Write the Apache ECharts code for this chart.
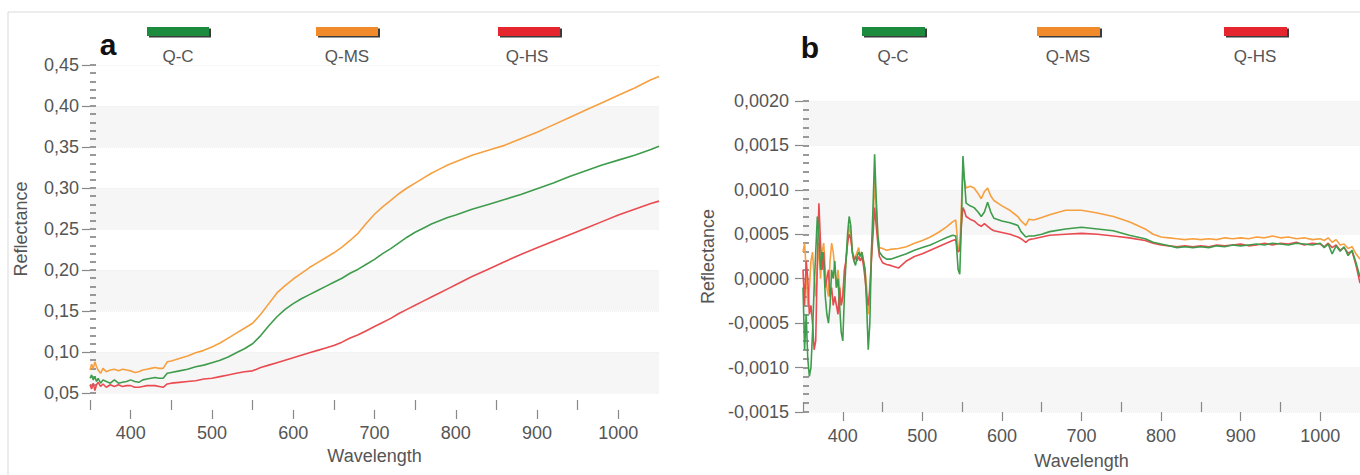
<!DOCTYPE html>
<html>
<head>
<meta charset="utf-8">
<script src="https://cdn.jsdelivr.net/npm/echarts@6/dist/echarts.min.js"></script>
<style>
  html, body { margin: 0; padding: 0; background: #fff; }
  #chart { width: 1360px; height: 475px; }
</style>
</head>
<body>
<div id="chart"></div>
<script>
// panel a: wavelength (nm) and reflectance
const waveA = [350, 352, 354, 356, 358, 360, 363, 366, 370, 375, 380, 385, 390, 395, 400, 405, 410, 415, 420, 425, 430, 435, 440, 445, 450,
  460, 470, 480, 490, 500, 510, 520, 530, 540, 550, 560, 570, 580, 590, 600, 610, 620, 630, 640, 650, 660, 670, 680, 690, 700,
  710, 720, 730, 740, 750, 760, 770, 780, 790, 800, 820, 840, 860, 880, 900, 920, 940, 960, 980, 1000, 1020, 1040, 1050];
const qcA = [0.068, 0.072, 0.066, 0.070, 0.064, 0.068, 0.062, 0.066, 0.064, 0.062, 0.066, 0.062, 0.063, 0.064, 0.066, 0.064, 0.063, 0.066, 0.067, 0.068, 0.069, 0.068, 0.068, 0.074, 0.075,
  0.077, 0.079, 0.082, 0.084, 0.087, 0.090, 0.094, 0.099, 0.104, 0.110, 0.120, 0.132, 0.143, 0.152, 0.159, 0.165, 0.170, 0.175, 0.180, 0.185, 0.190, 0.196, 0.201, 0.207, 0.213,
  0.220, 0.226, 0.233, 0.240, 0.246, 0.251, 0.256, 0.260, 0.264, 0.267, 0.274, 0.280, 0.286, 0.292, 0.299, 0.306, 0.314, 0.321, 0.328, 0.334, 0.340, 0.347, 0.351];
const qmsA = [0.078, 0.085, 0.080, 0.088, 0.082, 0.078, 0.074, 0.080, 0.076, 0.078, 0.079, 0.077, 0.079, 0.078, 0.077, 0.075, 0.076, 0.078, 0.079, 0.080, 0.081, 0.080, 0.080, 0.088, 0.089,
  0.092, 0.095, 0.099, 0.102, 0.106, 0.111, 0.117, 0.123, 0.129, 0.135, 0.146, 0.159, 0.172, 0.181, 0.189, 0.196, 0.203, 0.209, 0.215, 0.221, 0.228, 0.236, 0.245, 0.257, 0.268,
  0.277, 0.285, 0.293, 0.300, 0.306, 0.312, 0.318, 0.323, 0.328, 0.332, 0.340, 0.346, 0.352, 0.360, 0.368, 0.377, 0.386, 0.395, 0.404, 0.413, 0.422, 0.432, 0.436];
const qhsA = [0.060, 0.055, 0.062, 0.053, 0.060, 0.063, 0.058, 0.061, 0.057, 0.060, 0.058, 0.060, 0.058, 0.059, 0.059, 0.057, 0.057, 0.058, 0.059, 0.059, 0.059, 0.058, 0.057, 0.061, 0.062,
  0.063, 0.064, 0.065, 0.067, 0.068, 0.070, 0.072, 0.074, 0.076, 0.077, 0.081, 0.084, 0.087, 0.090, 0.093, 0.096, 0.099, 0.102, 0.105, 0.108, 0.112, 0.117, 0.121, 0.126, 0.131,
  0.136, 0.141, 0.147, 0.152, 0.157, 0.162, 0.167, 0.172, 0.177, 0.182, 0.192, 0.201, 0.210, 0.219, 0.227, 0.235, 0.243, 0.251, 0.259, 0.267, 0.274, 0.281, 0.284];

// panel b: values in units of 1e-4
const waveB = [350, 352, 354, 356, 358, 360, 362, 364, 366, 368, 370, 372, 374, 376, 378, 380, 382, 384, 386, 388,
  390, 392, 394, 396, 398, 400, 402, 404, 406, 408, 410, 412, 414, 416, 418, 420, 422, 424, 426, 428,
  430, 432, 434, 436, 438, 440, 442, 444, 446,
  450, 455, 460, 470, 480, 490, 500, 510, 520, 530,
  538, 542, 545, 547, 549, 551, 553, 555,
  560, 565, 570, 574, 578, 582, 586, 590,
  600, 610, 620, 624, 630, 634, 640, 650, 660,
  680, 700, 720, 740, 760, 780, 790,
  800, 810, 820, 830, 840, 850, 860, 870, 880, 890, 900, 910, 920, 930, 940, 950, 960, 970, 980, 990, 1000,
  1005, 1010, 1015, 1020, 1025, 1030, 1035, 1040, 1045, 1050];
const qcB = [-1, -8, -4, -9, -11, -10, -6, -1, 3, 7, 5, 1, 3, 2, -2, -4, -5, -3, 1, 0,
  2, -1, 0, -3, -6, -7, -2, 2, 5, 7, 6, 3, 2, 1.5, 2.5, 3, 2.5, 3, 2, 1,
  -3, -8, -5, 3, 8, 14, 9, 5, 3,
  2.5, 2.2, 2.2, 2.5, 2.8, 3.2, 3.5, 3.8, 4.2, 4.6,
  4.9, 4.8, 1, 0.5, 6, 13.8, 11, 8.5,
  8.2, 8.0, 7.5, 7, 7.5, 8.6, 7.5, 6.8,
  6.5, 6.3, 6.0, 5.3, 4.7, 4.8, 4.8, 5.0, 5.3,
  5.6, 5.8, 5.6, 5.4, 4.9, 4.5, 4.1,
  3.9, 3.7, 3.5, 3.6, 3.5, 3.6, 3.5, 3.7, 3.6, 3.8, 3.7, 3.8, 3.9, 3.8, 4.0, 3.9, 3.8, 4.0, 3.9, 3.8, 4.0,
  3.5, 3.9, 2.8, 3.7, 3.1, 3.6, 2.6, 3.2, 1.8, 0.2];
const qmsB = [3, 4, 1, -3, -1, 2, 3, 0, -2, 1, 4, 0, 3, 4, 1, -1, -2, 2, 4, 3,
  1, -1, 1, -1, -3, -2, 0, 2, 4, 6, 5, 3, 2.5, 2.5, 3, 3.5, 2.5, 3, 2, 1,
  -1, -4, -2, 3, 6, 11, 8, 5, 3.5,
  3.4, 3.2, 3.3, 3.4, 3.6, 4.0, 4.3, 4.7, 5.2, 5.8,
  6.4, 6.6, 3.5, 3.2, 8, 12.5, 11, 10.2,
  10.4, 10.2, 9.6, 9.0, 9.8, 10.2, 9.3, 8.8,
  8.2, 7.7, 7.0, 6.5, 6.0, 6.7, 6.6, 6.9, 7.2,
  7.7, 7.7, 7.4, 7.0, 6.4, 5.6, 5.0,
  4.7, 4.6, 4.5, 4.4, 4.5, 4.4, 4.5, 4.4, 4.6, 4.5, 4.6, 4.5, 4.7, 4.6, 4.8, 4.6, 4.7, 4.5, 4.6, 4.4, 4.5,
  4.3, 4.6, 4.1, 4.4, 3.8, 3.9, 3.4, 3.6, 2.8, 2.2];
const qhsB = [1, -3, 2, 0, -4, -3, -5, -8, -7, 2, 8.5, 4, 1, 3, -1, 0, 1, -2, -1, -3,
  -2, -3, -4, -1, -3, -2, 1, 2, 4, 5, 4.5, 3, 2, 2.5, 2, 2.5, 2, 2.5, 1.5, 0,
  -2, -3, -1, 2, 5, 8, 6, 4, 2.5,
  1.8, 1.6, 1.5, 1.2, 2.0, 2.5, 2.8, 3.2, 3.6, 4.0,
  4.3, 4.4, 3.0, 3.2, 6, 8.0, 7.6, 7.0,
  6.7, 6.5, 6.1, 5.9, 6.2, 5.9, 5.6, 5.4,
  5.2, 5.0, 4.7, 4.5, 4.1, 4.4, 4.5, 4.7, 4.9,
  5.0, 5.1, 5.0, 4.8, 4.6, 4.3, 4.0,
  3.8, 3.7, 3.6, 3.7, 3.6, 3.7, 3.6, 3.8, 3.7, 3.8, 3.9, 3.7, 3.8, 4.0, 3.8, 4.0, 3.9, 4.1, 3.8, 4.0, 3.9,
  3.6, 4.0, 3.5, 3.8, 3.2, 3.5, 2.9, 3.1, 1.5, -0.5];

const names = ['Q-C', 'Q-MS', 'Q-HS'];
const lineColors = ['#3f9c4c', '#f6a041', '#e94b50'];
const swatchColors = ['#1f8b3e', '#f08a2a', '#e5262f'];
const ticksOdd = [350, 450, 550, 650, 750, 850, 950];
const ticksLabeled = [400, 500, 600, 700, 800, 900, 1000];

const chart = echarts.init(document.getElementById('chart'), null, { renderer: 'svg' });

const txt = '#555';
const fontFam = "'Liberation Sans', Arial, sans-serif";
const fs = 18;

function xPair(grid, offset, tickIn, lblMargin, nameGap) {
  return [
    {
      gridIndex: grid, type: 'value', min: 350, max: 1050, position: 'bottom', offset: offset,
      axisLine: { show: false, onZero: false },
      axisTick: { show: true, inside: true, length: tickIn, customValues: ticksOdd, lineStyle: { color: '#888', width: 1.2 } },
      axisLabel: { show: false },
      splitLine: { show: false }
    },
    {
      gridIndex: grid, type: 'value', min: 350, max: 1050, position: 'bottom', offset: offset,
      axisLine: { show: false, onZero: false },
      axisTick: { show: true, length: 9, customValues: ticksLabeled, lineStyle: { color: '#888', width: 1.2 } },
      axisLabel: { customValues: ticksLabeled, formatter: v => String(v), margin: lblMargin, fontSize: fs, color: txt, fontFamily: fontFam },
      splitLine: { show: false },
      name: 'Wavelength', nameLocation: 'middle', nameGap: nameGap,
      nameTextStyle: { fontSize: fs, color: txt, fontFamily: fontFam }
    }
  ];
}

function yPair(grid, min, max, step, digits, lblMargin, nameGap) {
  const fmt = v => v.toFixed(digits).replace('.', ',');
  return [
    {
      gridIndex: grid, type: 'value', min: min, max: max, interval: step, position: 'left',
      axisLine: { show: false, onZero: false },
      axisTick: { show: true, length: 8, lineStyle: { color: '#888', width: 1.2 } },
      axisLabel: { formatter: fmt, margin: lblMargin, fontSize: fs, color: txt, fontFamily: fontFam },
      splitLine: { show: true, lineStyle: { color: '#f0f0f0', type: 'dotted' } },
      splitArea: { show: true, areaStyle: { color: ['#f6f6f6', 'rgba(255,255,255,0)'] } },
      name: 'Reflectance', nameLocation: 'middle', nameGap: nameGap, nameRotate: 90,
      nameTextStyle: { fontSize: fs, color: txt, fontFamily: fontFam }
    },
    {
      gridIndex: grid, type: 'value', min: min, max: max, interval: step, position: 'left',
      axisLine: { show: false, onZero: false },
      axisTick: { show: true, inside: true, length: 6, lineStyle: { color: '#999', width: 2 } },
      minorTick: { show: true, splitNumber: 5, length: 6, lineStyle: { color: '#999', width: 2 } },
      axisLabel: { show: false },
      splitLine: { show: false }
    }
  ];
}

function legends(lefts, w) {
  return names.map((n, i) => ({
    data: [n], left: lefts[i], top: 27, padding: 0, icon: 'rect',
    itemWidth: w, itemHeight: 9, selectedMode: false,
    formatter: () => '',
    itemStyle: { color: swatchColors[i], borderWidth: 0, shadowColor: 'rgba(20,20,20,0.85)', shadowOffsetX: 2, shadowOffsetY: 1.5, shadowBlur: 0 }
  }));
}

function lineSeries(wave, vals, scale, xi, yi, idx, width) {
  return {
    name: names[idx], type: 'line', xAxisIndex: xi, yAxisIndex: yi,
    data: wave.map((w, i) => [w, vals[i] * scale]),
    showSymbol: false, symbol: 'none', smooth: false,
    lineStyle: { color: lineColors[idx], width: width },
    itemStyle: { color: lineColors[idx] },
    z: idx === 0 ? 5 : 3
  };
}

function label(text, x, y) {
  return {
    type: 'text', x: x, y: y,
    style: { text: text, fill: txt, font: '17px ' + fontFam, align: 'center', verticalAlign: 'middle' }
  };
}

const option = {
  animation: false,
  backgroundColor: '#fff',
  grid: [
    { left: 90, top: 65, width: 569, height: 328 },
    { left: 803, top: 101, width: 557, height: 312 }
  ],
  xAxis: [].concat(xPair(0, 17, 10, 14, 34), xPair(1, 0, 10, 15, 40)),
  yAxis: [].concat(yPair(0, 0.05, 0.45, 0.05, 2, 11, 60), yPair(1, -0.0015, 0.002, 0.0005, 4, 14, 86)),
  legend: [].concat(legends([147, 316, 498], 62), legends([862, 1037, 1224], 63)),
  series: [
    lineSeries(waveA, qmsA, 1, 0, 0, 1, 1.6),
    lineSeries(waveA, qhsA, 1, 0, 0, 2, 1.6),
    lineSeries(waveA, qcA, 1, 0, 0, 0, 1.6),
    lineSeries(waveB, qmsB, 1e-4, 2, 2, 1, 1.6),
    lineSeries(waveB, qhsB, 1e-4, 2, 2, 2, 1.6),
    lineSeries(waveB, qcB, 1e-4, 2, 2, 0, 1.6)
  ],
  graphic: [
    // thin frame lines at top/left
    { type: 'line', shape: { x1: 8, y1: 12, x2: 1360, y2: 12 }, style: { stroke: '#d9d9d9', lineWidth: 1 } },
    { type: 'line', shape: { x1: 8, y1: 12, x2: 8, y2: 475 }, style: { stroke: '#d9d9d9', lineWidth: 1 } },
    // panel letters
    { type: 'text', x: 108, y: 44, style: { text: 'a', fill: '#111', font: "bold 30px 'Liberation Sans Narrow', 'Liberation Sans', Arial, sans-serif", align: 'center', verticalAlign: 'middle' } },
    { type: 'text', x: 810, y: 47, style: { text: 'b', fill: '#111', font: "bold 30px 'Liberation Sans Narrow', 'Liberation Sans', Arial, sans-serif", align: 'center', verticalAlign: 'middle' } },
    // legend captions under the swatches
    label('Q-C', 178, 56), label('Q-MS', 347, 56), label('Q-HS', 527, 56),
    label('Q-C', 893, 56), label('Q-MS', 1068, 56), label('Q-HS', 1255, 56)
  ]
};

chart.setOption(option);
</script>
</body>
</html>
